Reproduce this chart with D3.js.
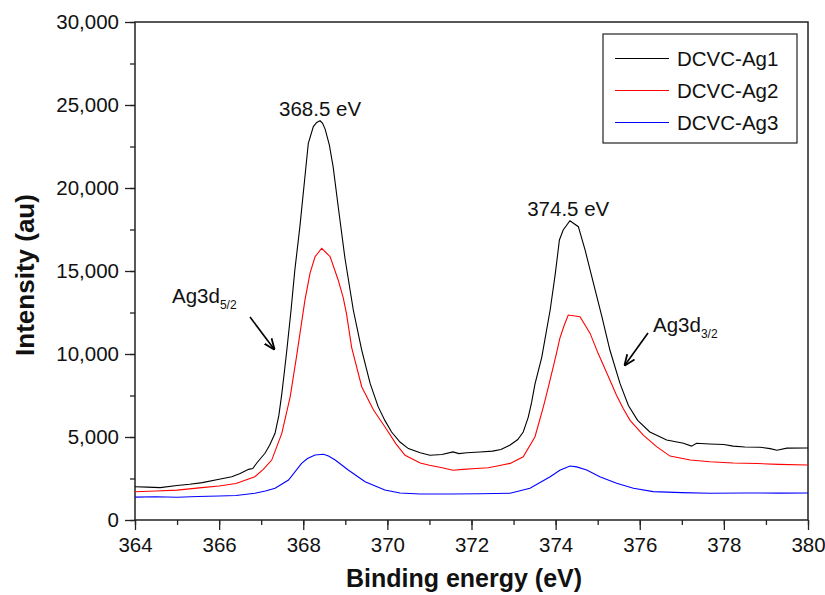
<!DOCTYPE html>
<html>
<head>
<meta charset="utf-8">
<script src="https://cdn.jsdelivr.net/npm/d3@7"></script>
<style>
  body { margin: 0; background: #fff; }
  svg { font-family: "Liberation Sans", Arial, sans-serif; }
</style>
</head>
<body>
<div id="chart"></div>
<script>
// Ag 3d XPS spectra
const seriesNames = ["DCVC-Ag1", "DCVC-Ag2", "DCVC-Ag3"];
const seriesColors = ["#000000", "#ff0000", "#0000ff"];

const energyAg1 = [364.0, 364.3, 364.6, 365.0, 365.3, 365.6, 366.0, 366.3, 366.5, 366.7, 366.8, 366.9, 367.09, 367.2,
  367.33, 367.42, 367.49, 367.55, 367.61, 367.71, 367.8, 367.92, 368.04, 368.12, 368.24, 368.32, 368.4, 368.46, 368.52,
  368.62, 368.71, 368.83, 368.99, 369.19, 369.39, 369.59, 369.78, 369.94, 370.1, 370.3, 370.5, 370.78, 371.01, 371.3,
  371.56, 371.7, 371.89, 372.2, 372.5, 372.7, 372.92, 373.1, 373.23, 373.35, 373.43, 373.51, 373.67, 373.87, 373.99,
  374.09, 374.18, 374.34, 374.54, 374.7, 374.9, 375.1, 375.29, 375.53, 375.73, 375.95, 376.24, 376.64, 377.04, 377.23,
  377.35, 377.66, 378.0, 378.22, 378.5, 378.86, 379.1, 379.26, 379.5, 380.0];
const intensityAg1 = [2000, 1980, 1950, 2080, 2150, 2250, 2450, 2600, 2800, 3050, 3100, 3450, 4020, 4500,
  5220, 6300, 7600, 8900, 10240, 12650, 15060, 17670, 20680, 22690, 23700, 23950, 24050, 23900, 23550,
  22600, 21290, 18900, 15800, 12650, 10240, 8230, 6830, 6000, 5300, 4700, 4300, 4050, 3900, 3950,
  4100, 4000, 4050, 4100, 4150, 4250, 4520, 4850, 5300, 6200, 7100, 8200, 9800, 12650, 14800,
  16870, 17470, 18030, 17670, 16270, 14260, 12250, 10240, 8230, 6900, 6000, 5300, 4820, 4620, 4450,
  4620, 4580, 4550, 4450, 4400, 4380, 4300, 4200, 4330, 4340];

const energyAg2 = [364.0, 364.5, 365.0, 365.59, 366.0, 366.4, 366.85, 367.05, 367.25, 367.49, 367.69, 367.84, 368.04,
  368.16, 368.28, 368.44, 368.64, 368.83, 368.95, 369.03, 369.15, 369.39, 369.67, 369.94, 370.2, 370.42, 370.78, 371.0,
  371.3, 371.56, 371.8, 372.1, 372.4, 372.7, 372.92, 373.23, 373.51, 373.71, 373.83, 374.02, 374.1, 374.2, 374.3,
  374.58, 374.82, 375.01, 375.29, 375.45, 375.61, 375.77, 376.09, 376.4, 376.72, 377.2, 377.67, 378.22, 378.8, 379.3, 380.0];
const intensityAg2 = [1700, 1750, 1800, 1950, 2050, 2200, 2610, 3050, 3610, 5220, 7430, 9840, 13250,
  14860, 15860, 16370, 15860, 14460, 13400, 12400, 10400, 8030, 6630, 5620, 4600, 3900, 3430, 3300,
  3150, 3000, 3050, 3100, 3150, 3300, 3410, 3810, 5020, 6830, 8030, 10040, 10940, 11700, 12350,
  12250, 11240, 10040, 8430, 7500, 6700, 6000, 5100, 4420, 3850, 3610, 3510, 3430, 3400, 3350, 3310];

const energyAg3 = [364.0, 364.5, 365.0, 365.5, 366.0, 366.4, 366.85, 367.1, 367.33, 367.65, 367.96, 368.1, 368.28,
  368.48, 368.6, 368.76, 369.07, 369.47, 369.94, 370.3, 370.78, 371.5, 372.2, 372.92, 373.39, 373.87, 374.1, 374.34,
  374.5, 374.74, 375.05, 375.45, 375.85, 376.32, 377.0, 377.67, 378.5, 379.3, 380.0];
const intensityAg3 = [1380, 1400, 1370, 1420, 1450, 1480, 1610, 1750, 1910, 2410, 3410, 3700, 3920,
  3960, 3850, 3610, 3010, 2310, 1810, 1630, 1570, 1570, 1580, 1610, 1910, 2610, 3000, 3250,
  3200, 3010, 2610, 2210, 1910, 1710, 1650, 1610, 1630, 1620, 1630];

const xTicks = [364, 366, 368, 370, 372, 374, 376, 378, 380];
const yTicks = [0, 5000, 10000, 15000, 20000, 25000, 30000];

const peakLabels = [
  { x: 368.4, y: 24050, text: "368.5 eV" },
  { x: 374.3, y: 18030, text: "374.5 eV" }
];

const width = 825, height = 595;
const margin = { top: 22, right: 17, bottom: 75, left: 135 };
const fontSize = 20.5;

const svg = d3.select("#chart").append("svg")
  .attr("width", width)
  .attr("height", height);

const x = d3.scaleLinear().domain([364, 380]).range([margin.left, width - margin.right]);
const y = d3.scaleLinear().domain([0, 30000]).range([height - margin.bottom, margin.top]);

// arrow head for the Ag3d pointers
svg.append("defs").append("marker")
  .attr("id", "arrow")
  .attr("viewBox", "0 0 10 10")
  .attr("refX", 9).attr("refY", 5)
  .attr("markerWidth", 7).attr("markerHeight", 7)
  .attr("orient", "auto")
  .append("path")
  .attr("d", "M0,1 L10,5 L0,9")
  .attr("fill", "none")
  .attr("stroke", "#000")
  .attr("stroke-width", 1.6);

// axes (minor ticks first, then labelled major ticks)
const yMinor = d3.range(0, 30001, 2500);
const xMinor = d3.range(364, 380.01, 1);

svg.append("g")
  .attr("transform", `translate(${margin.left},0)`)
  .call(d3.axisLeft(y).tickValues(yMinor).tickSize(5).tickFormat(""))
  .call(g => g.select(".domain").remove());

svg.append("g")
  .attr("class", "y-axis")
  .attr("transform", `translate(${margin.left},0)`)
  .call(d3.axisLeft(y).tickValues(yTicks).tickSize(10).tickPadding(6).tickFormat(d3.format(",")))
  .call(g => g.select(".domain").remove())
  .call(g => g.selectAll("text").attr("font-size", fontSize).attr("fill", "#111"));

svg.append("g")
  .attr("transform", `translate(0,${height - margin.bottom})`)
  .call(d3.axisBottom(x).tickValues(xMinor).tickSize(5).tickFormat(""))
  .call(g => g.select(".domain").remove());

svg.append("g")
  .attr("class", "x-axis")
  .attr("transform", `translate(0,${height - margin.bottom})`)
  .call(d3.axisBottom(x).tickValues(xTicks).tickSize(10).tickPadding(7).tickFormat(d3.format("d")))
  .call(g => g.select(".domain").remove())
  .call(g => g.selectAll("text").attr("font-size", fontSize).attr("fill", "#111"));

svg.selectAll(".tick line").attr("stroke", "#222").attr("stroke-width", 1.3);

// frame
svg.append("rect")
  .attr("x", margin.left)
  .attr("y", margin.top)
  .attr("width", width - margin.left - margin.right)
  .attr("height", height - margin.top - margin.bottom)
  .attr("fill", "none")
  .attr("stroke", "#222")
  .attr("stroke-width", 1.5);

// spectra
const series = [
  { name: seriesNames[0], color: seriesColors[0], xs: energyAg1, ys: intensityAg1 },
  { name: seriesNames[1], color: seriesColors[1], xs: energyAg2, ys: intensityAg2 },
  { name: seriesNames[2], color: seriesColors[2], xs: energyAg3, ys: intensityAg3 }
];

const line = d3.line()
  .x(d => x(d[0]))
  .y(d => y(d[1]));

svg.append("g")
  .selectAll("path")
  .data(series)
  .join("path")
  .attr("d", s => line(d3.zip(s.xs, s.ys)))
  .attr("fill", "none")
  .attr("stroke", s => s.color)
  .attr("stroke-width", 1.1);

// peak labels
svg.append("g")
  .selectAll("text")
  .data(peakLabels)
  .join("text")
  .attr("x", d => x(d.x))
  .attr("y", d => y(d.y) - 5)
  .attr("text-anchor", "middle")
  .attr("font-size", fontSize)
  .attr("fill", "#111")
  .text(d => d.text);

// Ag3d annotations
function subLabel(px, py, main, sub) {
  const t = svg.append("text")
    .attr("x", px).attr("y", py)
    .attr("font-size", fontSize)
    .attr("fill", "#111");
  t.append("tspan").text(main);
  t.append("tspan").attr("font-size", 12).attr("dy", 6).text(sub);
}
subLabel(172, 303, "Ag3d", "5/2");
subLabel(653, 332, "Ag3d", "3/2");

svg.append("line")
  .attr("x1", 250).attr("y1", 317)
  .attr("x2", 274).attr("y2", 349)
  .attr("stroke", "#000").attr("stroke-width", 1.6)
  .attr("marker-end", "url(#arrow)");

svg.append("line")
  .attr("x1", 648).attr("y1", 333)
  .attr("x2", 625).attr("y2", 365)
  .attr("stroke", "#000").attr("stroke-width", 1.6)
  .attr("marker-end", "url(#arrow)");

// legend
const legend = svg.append("g").attr("transform", "translate(603,34)");
legend.append("rect")
  .attr("width", 194).attr("height", 109)
  .attr("fill", "#fff")
  .attr("stroke", "#222")
  .attr("stroke-width", 1.2);

const rows = legend.selectAll("g.row")
  .data(series)
  .join("g")
  .attr("class", "row")
  .attr("transform", (d, i) => `translate(0,${24.5 + i * 32})`);

rows.append("line")
  .attr("x1", 12).attr("x2", 66)
  .attr("stroke", d => d.color)
  .attr("stroke-width", 1.1);

rows.append("text")
  .attr("x", 74)
  .attr("dy", "0.35em")
  .attr("font-size", fontSize)
  .attr("fill", "#111")
  .text(d => d.name);

// axis titles
svg.append("text")
  .attr("transform", "translate(34,275) rotate(-90)")
  .attr("text-anchor", "middle")
  .attr("font-size", 26)
  .attr("font-weight", "bold")
  .attr("fill", "#111")
  .text("Intensity (au)");

svg.append("text")
  .attr("x", 464)
  .attr("y", 587)
  .attr("text-anchor", "middle")
  .attr("font-size", 25)
  .attr("font-weight", "bold")
  .attr("fill", "#111")
  .text("Binding energy (eV)");
</script>
</body>
</html>
